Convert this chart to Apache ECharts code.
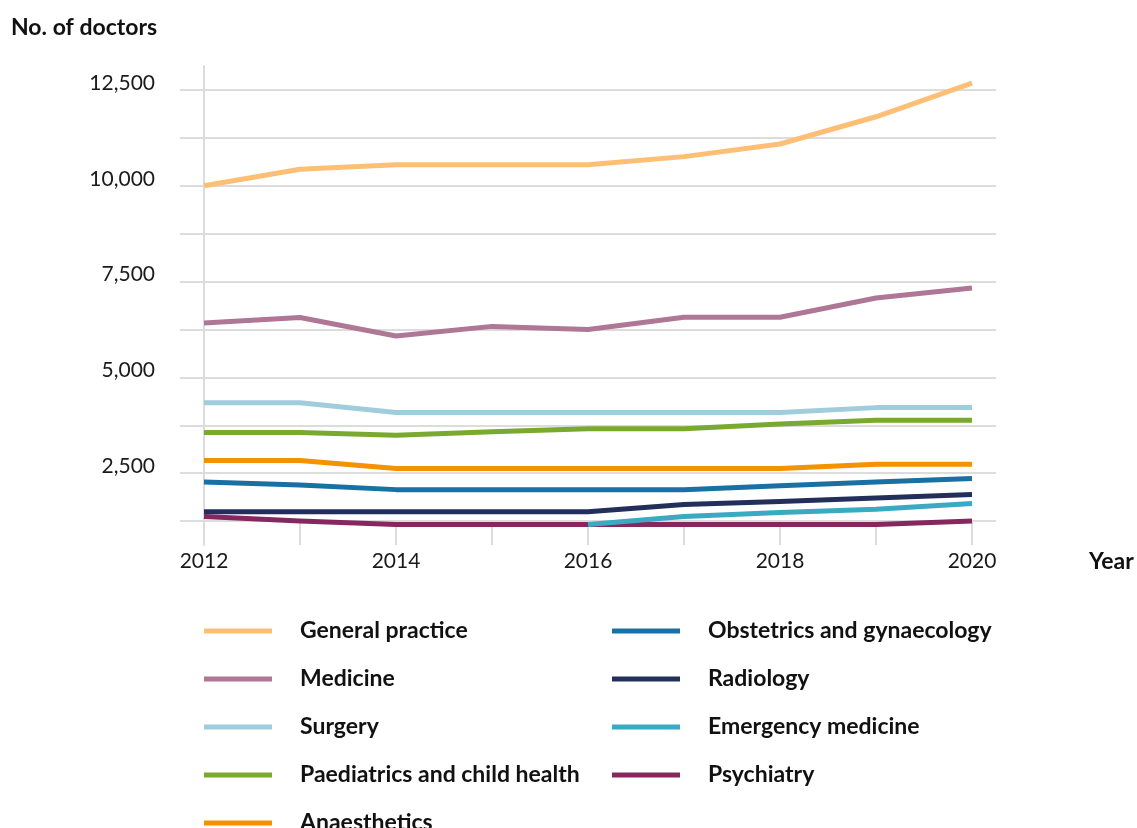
<!DOCTYPE html>
<html><head><meta charset="utf-8">
<script src="https://cdn.jsdelivr.net/npm/echarts@6/dist/echarts.min.js"></script>
<style>html,body{margin:0;padding:0;background:#fff}#c{width:1137px;height:828px}</style>
</head><body><div id="c"></div>
<script>
const years = [2012, 2013, 2014, 2015, 2016, 2017, 2018, 2019, 2020];
const seriesNames = ['General practice', 'Medicine', 'Surgery', 'Paediatrics and child health', 'Anaesthetics',
  'Obstetrics and gynaecology', 'Radiology', 'Emergency medicine', 'Psychiatry'];
const generalPractice = [10000, 10430, 10550, 10550, 10550, 10760, 11090, 11800, 12680];
const medicine = [6420, 6560, 6080, 6330, 6250, 6570, 6570, 7070, 7330];
const surgery = [4340, 4340, 4080, 4080, 4080, 4080, 4080, 4210, 4210];
const paediatrics = [3560, 3560, 3490, 3580, 3660, 3660, 3780, 3880, 3880];
const anaesthetics = [2830, 2830, 2620, 2620, 2620, 2620, 2620, 2730, 2730];
const obstetrics = [2270, 2190, 2070, 2070, 2070, 2070, 2170, 2270, 2360];
const radiology = [1490, 1490, 1490, 1490, 1490, 1680, 1760, 1850, 1945];
const emergency = [null, null, null, null, 1160, 1370, 1470, 1560, 1710];
const psychiatry = [1370, 1250, 1160, 1160, 1160, 1160, 1160, 1160, 1250];
const yTickLabels = [2500, 5000, 7500, 10000, 12500];
const xTickLabels = [2012, 2014, 2016, 2018, 2020];

const seriesValues = [generalPractice, medicine, surgery, paediatrics, anaesthetics, obstetrics, radiology, emergency, psychiatry];
const colors = ['#FCBF75', '#AF7795', '#A0CDDB', '#7AA92F', '#F39300', '#1A6FA3', '#232F5B', '#3AAAC2', '#86285F'];

const FONT = 'Lato';
const gridLineColor = '#dcdcdc';

const series = seriesValues.map((vals, i) => ({
  name: seriesNames[i],
  type: 'line',
  xAxisIndex: 1,
  yAxisIndex: 1,
  data: years.map((y, j) => [y, vals[j]]).filter(p => p[1] != null),
  symbol: 'none',
  color: colors[i],
  lineStyle: { width: 5, color: colors[i], join: 'round' },
  z: seriesNames[i] === 'Psychiatry' ? 1 : 2,
  animation: false
}));

const legendText = { fontFamily: FONT, fontWeight: 'bold', fontSize: 23, color: '#111', lineHeight: 24, padding: [0, 0, 4, 23] };

const option = {
  animation: false,
  backgroundColor: '#fff',
  grid: [
    { left: 180, right: 141, top: 66, bottom: 283 },
    { left: 204, right: 165, top: 66, bottom: 283 }
  ],
  xAxis: [
    { gridIndex: 0, type: 'value', min: 0, max: 1, show: false },
    {
      gridIndex: 1, type: 'value', min: 2012, max: 2020, interval: 1,
      axisLine: { show: false },
      axisTick: { show: true, inside: true, length: 23, lineStyle: { color: gridLineColor, width: 2 } },
      splitLine: { show: false },
      axisLabel: {
        margin: 6, fontFamily: FONT, fontSize: 21, color: '#1a1a1a',
        formatter: v => xTickLabels.includes(v) ? String(v) : ''
      }
    }
  ],
  yAxis: [
    {
      gridIndex: 0, type: 'value', min: 625, max: 13125, interval: 625,
      axisLine: { show: false }, axisTick: { show: false },
      splitLine: { show: true, lineStyle: { color: ['rgba(0,0,0,0)', gridLineColor], width: 2 } },
      axisLabel: {
        margin: 25, fontFamily: FONT, fontSize: 21, color: '#1a1a1a', verticalAlign: 'bottom', lineHeight: 14,
        formatter: v => yTickLabels.includes(v) ? v.toLocaleString('en-US') : ''
      }
    },
    {
      gridIndex: 1, type: 'value', min: 625, max: 13125, interval: 625,
      axisLine: { show: true, lineStyle: { color: gridLineColor, width: 2 } },
      axisTick: { show: false }, axisLabel: { show: false }, splitLine: { show: false }
    }
  ],
  legend: [
    {
      left: 199, top: 612, height: 260, orient: 'vertical', icon: 'rect', itemWidth: 68, itemHeight: 5, itemGap: 20,
      selectedMode: false, data: seriesNames.slice(0, 5), textStyle: legendText
    },
    {
      left: 607, top: 612, height: 260, orient: 'vertical', icon: 'rect', itemWidth: 68, itemHeight: 5, itemGap: 20,
      selectedMode: false, data: seriesNames.slice(5), textStyle: legendText
    }
  ],
  graphic: [
    { type: 'text', x: 11, y: 28, style: { text: 'No. of doctors', font: 'bold 23px Lato', fill: '#111', verticalAlign: 'middle' } },
    { type: 'text', x: 1089, y: 562, style: { text: 'Year', font: 'bold 23px Lato', fill: '#111', verticalAlign: 'middle' } }
  ],
  series
};

const chart = echarts.init(document.getElementById('c'), null, { renderer: 'canvas' });
chart.setOption(option);
</script>
</body></html>
